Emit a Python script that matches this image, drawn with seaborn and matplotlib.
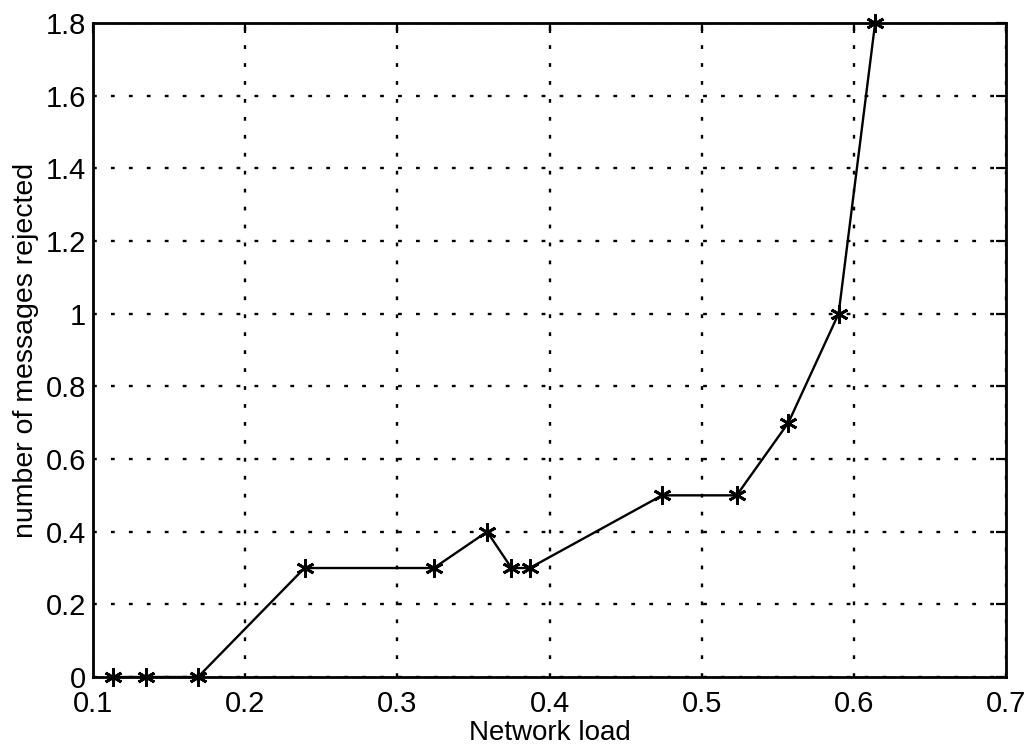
import matplotlib
matplotlib.use("Agg")
import matplotlib.pyplot as plt
import seaborn as sns
import pandas as pd

# Rejected messages against network load
network_load = [0.113, 0.135, 0.169, 0.239, 0.324, 0.359, 0.375, 0.387,
                0.474, 0.523, 0.557, 0.590, 0.614]
rejected = [0.0, 0.0, 0.0, 0.3, 0.3, 0.4, 0.3, 0.3, 0.5, 0.5, 0.7, 1.0, 1.8]

x_ticks = [0.1, 0.2, 0.3, 0.4, 0.5, 0.6, 0.7]
y_ticks = [0, 0.2, 0.4, 0.6, 0.8, 1, 1.2, 1.4, 1.6, 1.8]
y_tick_labels = ["0", "0.2", "0.4", "0.6", "0.8", "1", "1.2", "1.4", "1.6", "1.8"]

df = pd.DataFrame({"load": network_load, "rejected": rejected})

sns.set_theme(style="white")
plt.rcParams["font.family"] = ["Liberation Sans", "DejaVu Sans"]

fig = plt.figure(figsize=(10.3, 7.54), dpi=100)
ax = fig.add_axes([0.0903, 0.1021, 0.8864, 0.8674])

sns.lineplot(data=df, x="load", y="rejected", ax=ax, color="black",
             linewidth=1.7, marker=(6, 2, 0), markersize=13,
             markeredgewidth=2.0, markeredgecolor="black", sort=False,
             clip_on=False, zorder=5)

ax.set_xlim(0.1, 0.7)
ax.set_ylim(0, 1.8)
ax.set_xticks(x_ticks)
ax.set_xticklabels([f"{t:g}" for t in x_ticks])
ax.set_yticks(y_ticks)
ax.set_yticklabels(y_tick_labels)

ax.grid(True, color="black", linestyle=(0, (1.6, 6)), linewidth=1.7)
ax.set_axisbelow(True)

for s in ax.spines.values():
    s.set_color("black")
    s.set_linewidth(2.0)

ax.tick_params(axis="both", which="major", labelsize=21, direction="in",
               length=7, width=1.6, colors="black", top=True, right=True)
ax.tick_params(axis="x", pad=9)
ax.tick_params(axis="y", pad=5)

ax.set_xlabel("Network load", fontsize=20, labelpad=2, color="black")
ax.set_ylabel("number of messages rejected", fontsize=20.5, labelpad=5,
              color="black")

fig.savefig("out.png", dpi=100, facecolor="white")
